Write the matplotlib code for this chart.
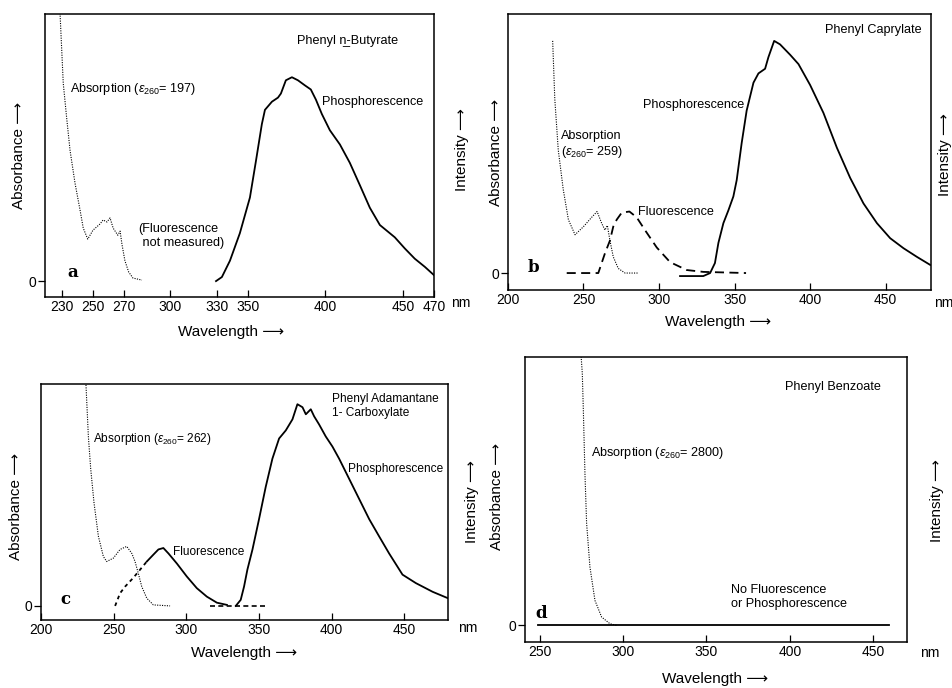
import matplotlib
matplotlib.use('Agg')
import matplotlib.pyplot as plt

plt.rcParams['font.family'] = ['Liberation Sans', 'DejaVu Sans']
plt.rcParams['mathtext.fontset'] = 'custom'
plt.rcParams['mathtext.rm'] = 'Liberation Sans'
plt.rcParams['mathtext.it'] = 'Liberation Sans:italic'

# ---- данные: панель a (Phenyl n-Butyrate) ----
a_abs_x = [228.5, 230.8, 233.0, 235.2, 238.4, 241.6, 243.7, 246.6, 250.0, 254.5, 256.5, 259.0,
           261.0, 263.0, 266.0, 267.5, 268.7, 270.6, 273.0, 275.8, 281.6]
a_abs_y = [1.35, 0.97, 0.80, 0.64, 0.48, 0.35, 0.26, 0.206, 0.25, 0.28, 0.30, 0.29,
           0.31, 0.26, 0.225, 0.245, 0.18, 0.10, 0.045, 0.015, 0.005]
a_phos_x = [329.4, 333.2, 338.4, 344.8, 351.3, 355.2, 359.0, 361.0, 365.5, 369.4, 371.3, 374.5,
            378.4, 382.3, 386.8, 390.6, 393.9, 397.7, 402.9, 409.4, 415.8, 422.3, 428.7, 435.2,
            444.8, 451.3, 457.7, 464.2, 470.0]
a_phos_y = [0.0, 0.02, 0.10, 0.235, 0.41, 0.59, 0.77, 0.84, 0.88, 0.90, 0.92, 0.985,
            1.0, 0.985, 0.96, 0.94, 0.89, 0.82, 0.74, 0.67, 0.58, 0.47, 0.36, 0.275,
            0.215, 0.16, 0.11, 0.07, 0.03]
a_ticks = [230, 250, 270, 300, 330, 350, 400, 450, 470]

# ---- панель b (Phenyl Caprylate) ----
b_abs_x = [229.6, 231.0, 233.3, 236.6, 240.0, 244.4, 250.0, 255.4, 259.0, 262.0, 264.2, 265.8,
           267.5, 269.7, 273.0, 277.5, 286.0]
b_abs_y = [1.0, 0.75, 0.53, 0.36, 0.23, 0.165, 0.20, 0.24, 0.265, 0.215, 0.185, 0.205,
           0.14, 0.07, 0.02, 0.0, 0.0]
b_fluo_x = [238.9, 259.8, 264.2, 267.5, 269.7, 272.0, 275.3, 280.4, 285.2, 290.7, 298.5, 307.3,
            318.3, 329.3, 357.6]
b_fluo_y = [0.0, 0.0, 0.085, 0.14, 0.20, 0.23, 0.26, 0.265, 0.24, 0.185, 0.11, 0.047,
            0.013, 0.005, 0.0]
b_phos_x = [313.9, 329.3, 333.8, 337.0, 339.3, 342.6, 345.9, 349.2, 351.4, 354.7, 358.0, 362.5,
            365.8, 370.2, 372.4, 376.2, 380.1, 386.8, 392.3, 400.0, 408.8, 417.7, 426.5, 435.3,
            444.2, 453.0, 461.8, 470.6, 479.5]
b_phos_y = [-0.013, -0.013, 0.0, 0.043, 0.13, 0.215, 0.27, 0.33, 0.40, 0.56, 0.70, 0.82,
            0.86, 0.88, 0.93, 1.0, 0.985, 0.94, 0.90, 0.81, 0.69, 0.54, 0.41, 0.30,
            0.215, 0.15, 0.107, 0.07, 0.035]
b_ticks = [200, 250, 300, 350, 400, 450]

# ---- панель c (Phenyl Adamantane 1-Carboxylate) ----
c_abs_x = [230.8, 232.6, 234.2, 236.5, 239.5, 242.9, 245.2, 249.8, 254.4, 259.0, 262.5, 264.7,
           267.0, 269.3, 272.8, 277.3, 288.8]
c_abs_y = [1.12, 0.84, 0.68, 0.51, 0.345, 0.245, 0.22, 0.237, 0.28, 0.295, 0.26, 0.22,
           0.16, 0.096, 0.038, 0.005, 0.0]
c_fluo_x = [251.0, 254.4, 257.9, 263.6, 268.2, 272.8, 277.3, 280.8, 284.2, 287.7, 293.5, 300.3,
            307.2, 314.1, 321.0, 327.9]
c_fluo_y = [0.0, 0.063, 0.096, 0.14, 0.18, 0.22, 0.254, 0.28, 0.287, 0.26, 0.21, 0.146,
            0.088, 0.046, 0.016, 0.005]
c_tail_x = [316.0, 354.3]
c_tail_y = [0.0, 0.0]
c_phos_x = [334.0, 337.4, 339.7, 342.0, 345.5, 350.0, 354.6, 359.2, 363.8, 368.4, 373.0, 376.4,
            379.9, 382.2, 385.6, 387.9, 391.3, 395.9, 400.5, 405.1, 412.0, 418.9, 425.8, 432.6,
            439.5, 448.7, 457.9, 469.4, 480.0]
c_phos_y = [0.0, 0.03, 0.096, 0.18, 0.28, 0.43, 0.59, 0.73, 0.83, 0.87, 0.925, 1.0,
            0.985, 0.95, 0.975, 0.94, 0.90, 0.84, 0.79, 0.73, 0.63, 0.53, 0.43, 0.345,
            0.26, 0.155, 0.113, 0.07, 0.038]
c_ticks = [200, 250, 300, 350, 400, 450]

# ---- панель d (Phenyl Benzoate) ----
d_abs_x = [274.5, 275.4, 276.0, 277.0, 278.0, 280.0, 283.0, 287.0, 292.0, 296.0]
d_abs_y = [1.02, 0.94, 0.81, 0.565, 0.38, 0.217, 0.093, 0.031, 0.006, 0.0]
d_base_x = [249.0, 459.6]
d_base_y = [0.0, 0.0]
d_ticks = [250, 300, 350, 400, 450]

fig = plt.figure(figsize=(9.53, 6.88), dpi=100)


def setup(ax, xlim, ylim, ticks, nm_pos, lab_pos, ylab_pos, ilab_pos, letter, letter_pos):
    ax.set_xlim(*xlim)
    ax.set_ylim(*ylim)
    ax.set_xticks(ticks)
    ax.set_xticklabels([str(t) for t in ticks], fontsize=10)
    ax.tick_params(axis='x', direction='in', length=5, width=0.9, pad=2)
    ax.set_yticks([0])
    ax.set_yticklabels(['0'], fontsize=10)
    ax.tick_params(axis='y', direction='out', length=5, width=0.9, pad=1)
    for s in ax.spines.values():
        s.set_linewidth(1.1)
    ax.text(nm_pos[0], nm_pos[1], 'nm', transform=ax.transAxes, fontsize=10, va='center')
    ax.set_xlabel('Wavelength \u27f6', fontsize=11)
    ax.xaxis.set_label_coords(*lab_pos)
    ax.set_ylabel('Absorbance \u27f6', fontsize=11)
    ax.yaxis.set_label_coords(*ylab_pos)
    ax.text(ilab_pos[0], ilab_pos[1], 'Intensity \u27f6', transform=ax.transAxes,
            rotation=90, fontsize=11, ha='center', va='center')
    ax.text(letter_pos[0], letter_pos[1], letter, fontsize=12, fontweight='heavy',
            family='DejaVu Serif', va='center', ha='center')


ann = dict(fontsize=9.1, va='center', ha='left')
ann_c = dict(fontsize=8.6, va='center', ha='left')
dot = dict(color='black', lw=0.8, ls=(0, (1, 1.2)))
solid = dict(color='black', lw=1.3)
dash = dict(color='black', lw=1.3, ls=(0, (5, 3)))

# a
ax = fig.add_axes([0.0472, 0.5683, 0.408, 0.4113])
ax.plot(a_abs_x, a_abs_y, **dot)
ax.plot(a_phos_x, a_phos_y, **solid)
setup(ax, (219, 470), (-0.078, 1.31), a_ticks, (1.045, -0.021), (0.478, -0.10),
      (-0.049, 0.5), (1.072, 0.52), 'a', (237, 0.04))
ax.text(381.6, 1.18, 'Phenyl n\u0332-Butyrate', **ann)
ax.text(235.2, 0.94, r'Absorption ($\epsilon_{260}$= 197)', **ann)
ax.text(397.7, 0.877, 'Phosphorescence', **ann)
ax.text(307, 0.22, '(Fluorescence\n not measured)', fontsize=9.1, va='center', ha='center',
        multialignment='left')

# b
ax = fig.add_axes([0.533, 0.5785, 0.4439, 0.4012])
ax.plot(b_abs_x, b_abs_y, **dot)
ax.plot(b_fluo_x, b_fluo_y, **dash)
ax.plot(b_phos_x, b_phos_y, **solid)
setup(ax, (200, 480), (-0.073, 1.116), b_ticks, (1.008, -0.047), (0.497, -0.09),
      (-0.012, 0.5), (1.033, 0.49), 'b', (216.6, 0.026))
ax.text(409.9, 1.047, 'Phenyl Caprylate', **ann)
ax.text(289.2, 0.724, 'Phosphorescence', **ann)
ax.text(234.9, 0.55, 'Absorption\n' + r'($\epsilon_{260}$= 259)', **ann)
ax.text(286.1, 0.263, 'Fluorescence', **ann)

# c
ax = fig.add_axes([0.043, 0.0988, 0.4271, 0.343])
ax.plot(c_abs_x, c_abs_y, **dot)
ax.plot(c_fluo_x[:6], c_fluo_y[:6], color='black', lw=1.3, ls=(0, (2, 2)))
ax.plot(c_fluo_x[5:], c_fluo_y[5:], **solid)
ax.plot(c_tail_x, c_tail_y, color='black', lw=1.2, ls=(0, (3, 2)))
ax.plot(c_phos_x, c_phos_y, **solid)
setup(ax, (200, 480), (-0.07, 1.10), c_ticks, (1.025, -0.034), (0.499, -0.11),
      (-0.044, 0.483), (1.058, 0.504), 'c', (216.5, 0.03))
ax.text(400.0, 0.99, 'Phenyl Adamantane\n1- Carboxylate', **ann_c)
ax.text(235.6, 0.826, r'Absorption ($\epsilon_{260}$= 262)', **ann_c)
ax.text(411.4, 0.677, 'Phosphorescence', **ann_c)
ax.text(290.9, 0.265, 'Fluorescence', **ann_c)

# d
ax = fig.add_axes([0.5509, 0.0669, 0.4008, 0.4142])
ax.plot(d_abs_x, d_abs_y, **dot)
ax.plot(d_base_x, d_base_y, **solid)
setup(ax, (241, 470.4), (-0.062, 1.0), d_ticks, (1.035, -0.039), (0.497, -0.105),
      (-0.055, 0.509), (1.078, 0.495), 'd', (251, 0.045))
ax.text(397, 0.888, 'Phenyl Benzoate', **ann)
ax.text(280.4, 0.641, r'Absorption ($\epsilon_{260}$= 2800)', **ann)
ax.text(365, 0.106, 'No Fluorescence\nor Phosphorescence', **ann)

plt.savefig('out.png', dpi=100)
